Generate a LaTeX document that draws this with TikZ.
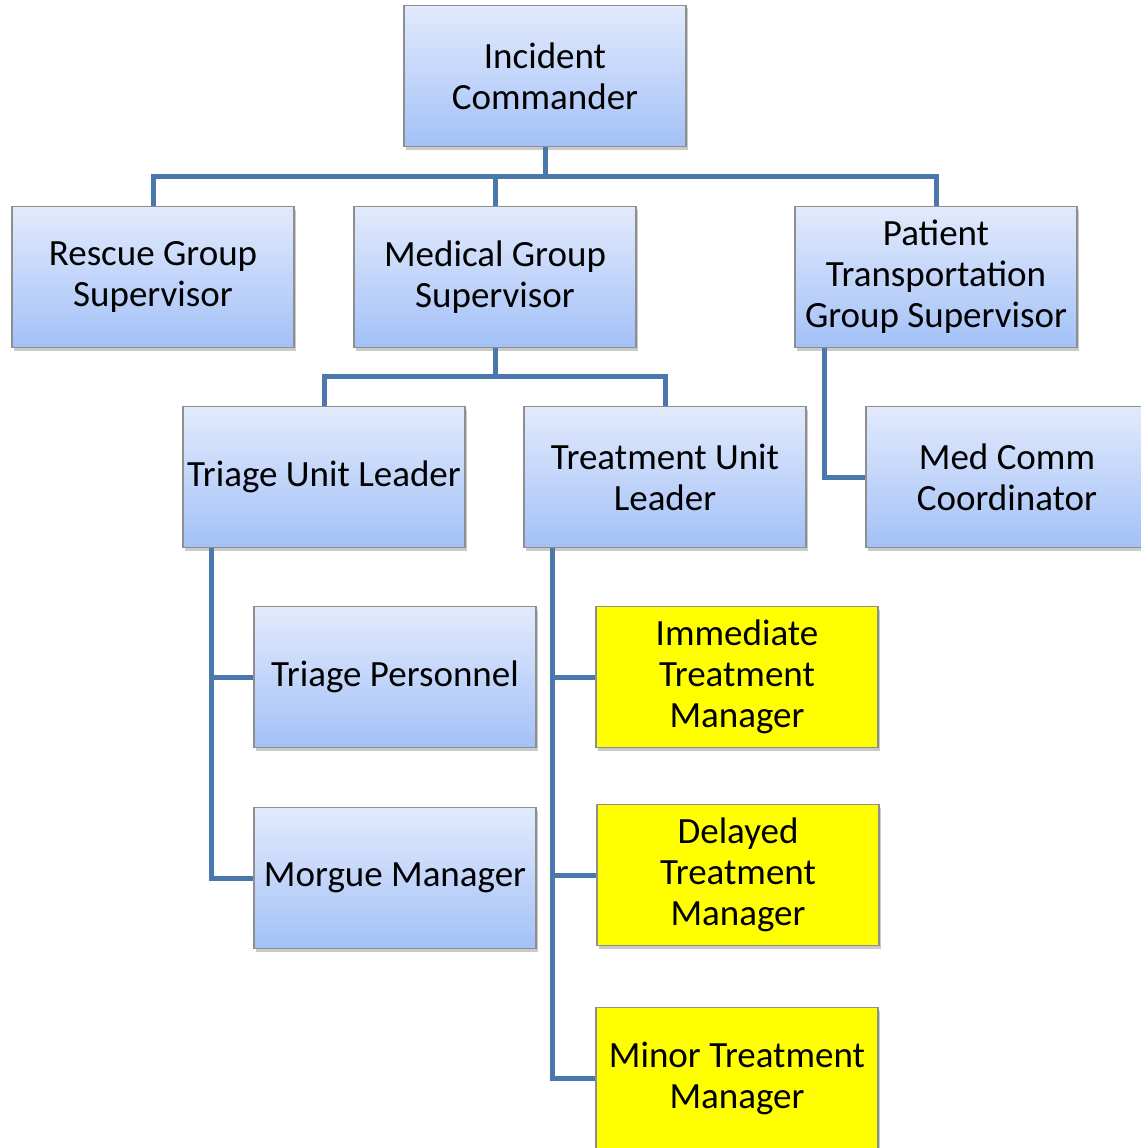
\documentclass[tikz,border=0pt]{standalone}
\usepackage{fontspec}
\setmainfont{Carlito}
\usetikzlibrary{shadows}
\definecolor{boxtop}{HTML}{E2EAFC}
\definecolor{boxbot}{HTML}{A3C1F7}
\definecolor{boxedge}{HTML}{8E8E8E}
\definecolor{linkc}{HTML}{4A78AC}
\definecolor{hiyel}{HTML}{FFFF00}
\tikzset{
  orgbox/.style={rectangle, draw=boxedge, line width=1.2pt, top color=boxtop, bottom color=boxbot,
    minimum width=282pt, minimum height=141pt, inner sep=0pt, align=center,
    font=\fontsize{37}{41}\selectfont,
    drop shadow={shadow xshift=2pt, shadow yshift=-3pt, opacity=0.35, fill=black!60}},
  yelbox/.style={orgbox, top color=hiyel, bottom color=hiyel},
  link/.style={draw=linkc, line width=5pt, line join=miter}
}
\begin{document}
\begin{tikzpicture}[x=1pt,y=-1pt]
\useasboundingbox (0,0) rectangle (1140,1148);
\coordinate (j1) at (545,176);
\coordinate (j1l) at (153,176);
\coordinate (j1m) at (495,176);
\coordinate (j1r) at (936,176);
\coordinate (j2) at (495,376);
\coordinate (j2l) at (324,376);
\coordinate (j2r) at (665,376);
\coordinate (pc) at (824,477);
\coordinate (ta) at (211,677);
\coordinate (tb) at (211,878);
\coordinate (ua) at (552,677);
\coordinate (ub) at (552,875);
\coordinate (uc) at (552,1078);

\node[orgbox] (ic) at (545,76) {Incident\\Commander};
\node[orgbox] (rgs) at (153,277) {Rescue Group\\Supervisor};
\node[orgbox] (mgs) at (495,277) {Medical Group\\Supervisor};
\node[orgbox] (pts) at (936,277) {Patient\\Transportation\\Group Supervisor};
\node[orgbox] (tul) at (324,477) {Triage Unit Leader};
\node[orgbox] (trul) at (665,477) {Treatment Unit\\Leader};
\node[orgbox] (mcc) at (1007,477) {Med Comm\\Coordinator};
\node[orgbox] (tp) at (395,677) {Triage Personnel};
\node[orgbox] (mm) at (395,878) {Morgue Manager};
\node[yelbox] (itm) at (737,677) {Immediate\\Treatment\\Manager};
\node[yelbox] (dtm) at (738,875) {Delayed\\Treatment\\Manager};
\node[yelbox] (mtm) at (737,1078) {Minor Treatment\\Manager};

\draw[link] (ic.south) -- (j1);
\draw[link] (rgs.north) -- (j1l) -- (j1r) -- (pts.north);
\draw[link] (j1m) -- (mgs.north);
\draw[link] (mgs.south) -- (j2);
\draw[link] (tul.north) -- (j2l) -- (j2r) -- (trul.north);
\draw[link] (pts.south -| pc) -- (pc) -- (mcc.west);
\draw[link] (tul.south -| ta) -- (tb) -- (mm.west);
\draw[link] (ta) -- (tp.west);
\draw[link] (trul.south -| ua) -- (uc) -- (mtm.west);
\draw[link] (ua) -- (itm.west);
\draw[link] (ub) -- (dtm.west);
\end{tikzpicture}
\end{document}
